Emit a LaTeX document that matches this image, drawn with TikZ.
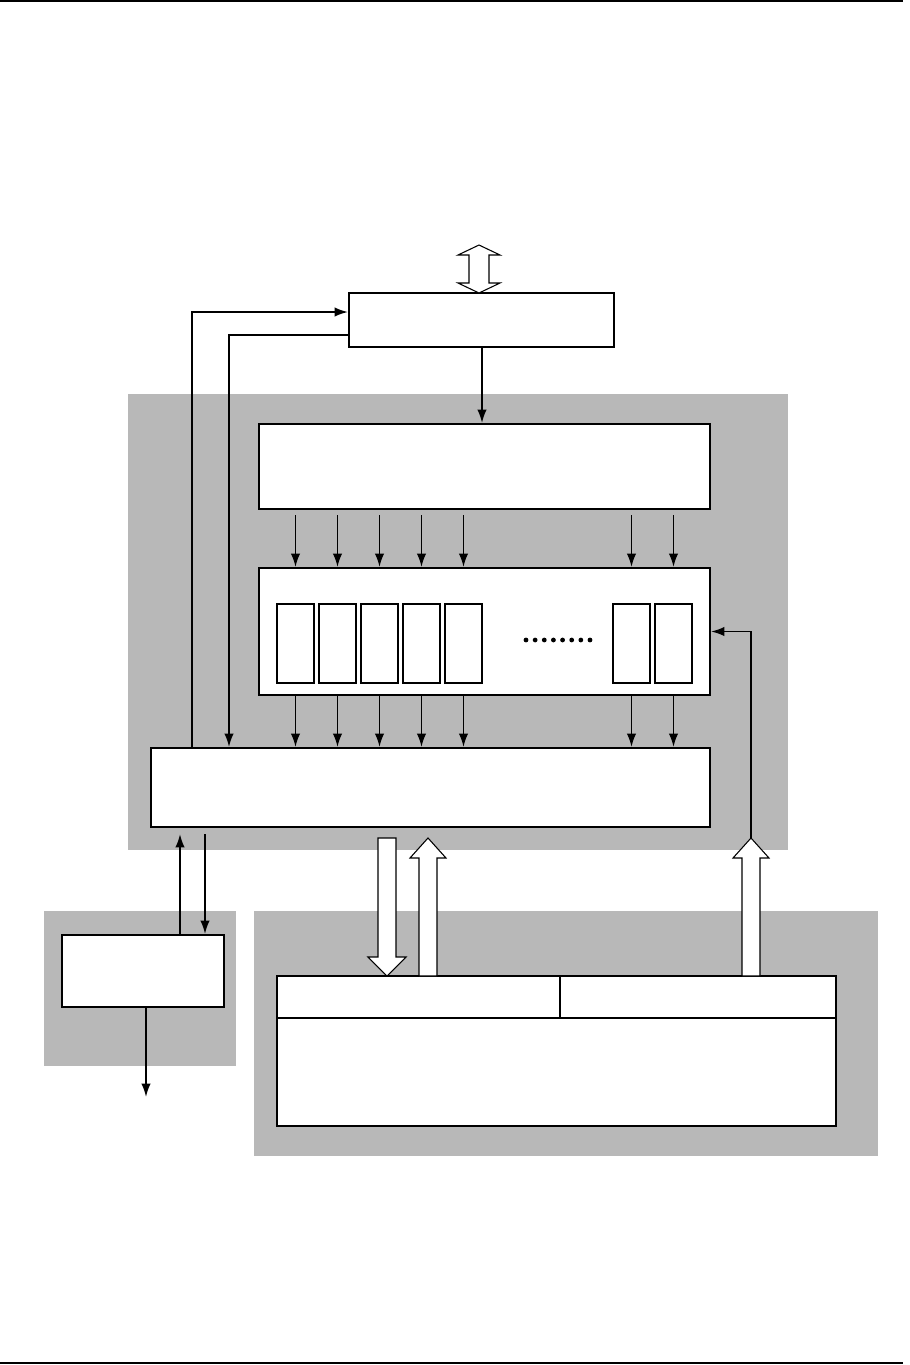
\documentclass[tikz,border=0pt]{standalone}
\usetikzlibrary{arrows.meta,calc,fit}
\definecolor{panel}{RGB}{184,184,184}
\begin{document}
\begin{tikzpicture}[x=0.75pt,y=-0.75pt,
  box/.style={draw=black,line width=1.5pt,fill=white,inner sep=0pt},
  cell/.style={draw=black,line width=1.2pt,fill=white,inner sep=0pt},
  panelbox/.style={fill=panel,inner sep=0pt},
  arr/.style={line width=1.3pt,-{Latex[length=10pt,width=7pt]}},
  hollow/.style={draw=black,line width=0.8pt,fill=white,line join=miter},
  rule/.style={line width=1.5pt}]
\useasboundingbox (0,0) rectangle (910,1365);
% page rules
\draw[rule] (0,1) -- (903,1);
\draw[rule] (0,1363) -- (903,1363);
% panels
\node[panelbox, fit={(128,394) (788,850)}] (p1) {};
\node[panelbox, fit={(44,911) (236,1066)}] (p2) {};
\node[panelbox, fit={(254,911) (878,1156)}] (p3) {};
% boxes
\node[box, fit={(349,293) (614,347)}] (top) {};
\node[box, fit={(259,424) (710,509)}] (buf) {};
\node[box, fit={(259,568) (710,695)}] (mem) {};
\node[box, fit={(151,748) (710,827)}] (ctl) {};
\node[box, fit={(62,935) (224,1007)}] (out) {};
\node[box, fit={(277,976) (836,1126)}] (b6) {};
\draw[line width=1.5pt] (b6.west |- 0,1018) -- (b6.east |- 0,1018);
\draw[line width=0.8pt] (560,976) -- (560,1018);
% cells
\foreach \x/\n in {277/1,319/2,361/3,403/4,445/5,613/6,655/7}
  \node[cell, fit={(\x,604) (\x+37,683)}] (c\n) {};
\foreach \i in {0,...,7}
  \fill ($(526,640)+(\i*9.14,0)$) circle[radius=1.8pt];
% column arrows
\foreach \n in {1,...,7}{
  \draw[arr] ($(c\n.north |- buf.south)+(0,5)$) -- (c\n.north |- mem.north);
  \draw[arr] (c\n.south |- mem.south) -- (c\n.south |- ctl.north);
}
% top box to buffer
\draw[arr] ($(top.south)+(0.5,0)$) -- ($(top.south |- buf.north)+(0.5,0)$);
% feedback lines
\draw[arr] ($(ctl.north west)+(42,0)$) |- ($(top.west)+(0,-8)$);
\draw[arr] ($(top.west)+(0,15)$) -| ($(ctl.north west)+(79,0)$);
% left block links
\draw[arr] ($(out.north west)+(119,0)$) -- ($(ctl.south west)+(30,6)$);
\draw[arr] ($(ctl.south west)+(55,6)$) -- ($(out.north west)+(144,0)$);
\coordinate (outend) at (146,1097);
\draw[arr] ($(out.south)+(3,0)$) -- (outend);
% hollow double arrow at top
\draw[hollow, shift={(479,0)}] (0,245) -- (21,255) -- (10,255) -- (10,283) -- (21,283) -- (0,293)
  -- (-21,283) -- (-10,283) -- (-10,255) -- (-21,255) -- cycle;
% hollow arrows between control and bottom block
\draw[hollow, shift={(387,838)}] (-9,0) -- (-9,119) -- (-19,119) -- (0,138) -- (19,119) -- (9,119) -- (9,0) -- cycle;
\draw[hollow, shift={(428,976)}] (-9,0) -- (-9,-118) -- (-18,-118) -- (0,-138) -- (18,-118) -- (9,-118) -- (9,0) -- cycle;
\draw[hollow, shift={(751,976)}] (-9,0) -- (-9,-118) -- (-18,-118) -- (0,-138) -- (18,-118) -- (9,-118) -- (9,0) -- cycle;
\coordinate (rt) at (751,838);
\draw[arr] (rt) |- (mem.east);
\end{tikzpicture}
\end{document}
